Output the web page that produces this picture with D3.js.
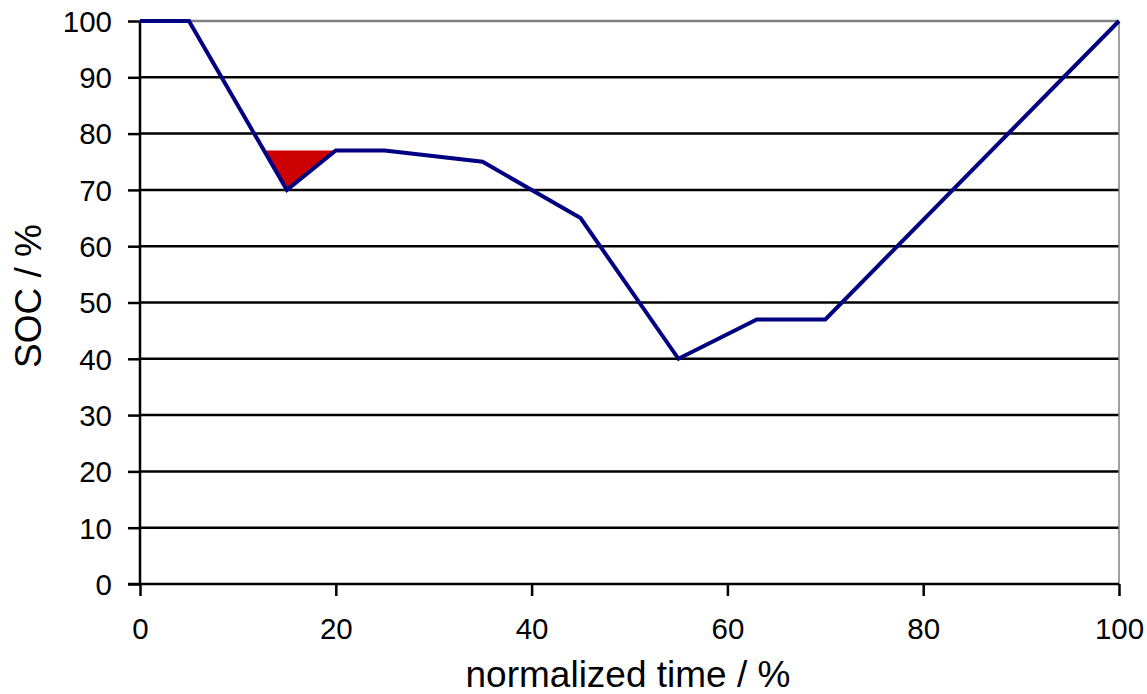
<!DOCTYPE html>
<html><head><meta charset="utf-8">
<script src="https://cdn.jsdelivr.net/npm/d3@7"></script>
<style>body{margin:0;background:#fff}svg{display:block}text{font-family:"Liberation Sans",Arial,sans-serif;fill:#000}</style>
</head><body>
<svg id="c" width="1147" height="694"></svg>
<script>
const timeVals = [0, 5, 15, 20, 25, 35, 45, 55, 63, 70, 100];
const socVals  = [100, 100, 70, 77, 77, 75, 65, 40, 47, 47, 100];
const xTicks = [0, 20, 40, 60, 80, 100];
const yTicks = [0, 10, 20, 30, 40, 50, 60, 70, 80, 90, 100];
const deficitTime = [12.667, 15, 20];
const deficitSoc  = [77, 70, 77];

const svg = d3.select("#c");
const L = 140, R = 1119, T = 21, B = 584;
const x = d3.scaleLinear().domain([0, 100]).range([L, R]);
const y = d3.scaleLinear().domain([0, 100]).range([B, T]);

// gridlines
svg.append("g").selectAll("line").data(yTicks.filter(d => d > 0 && d < 100)).join("line")
  .attr("x1", L).attr("x2", R).attr("y1", d => y(d)).attr("y2", d => y(d))
  .attr("stroke", "#000").attr("stroke-width", 2.5);
// top & right border (gray)
svg.append("line").attr("x1", L).attr("x2", R).attr("y1", y(100)).attr("y2", y(100))
  .attr("stroke", "#808080").attr("stroke-width", 2.5);
svg.append("line").attr("x1", R).attr("x2", R).attr("y1", T).attr("y2", B)
  .attr("stroke", "#808080").attr("stroke-width", 1.5);

// red deficit area
svg.append("path")
  .datum(deficitTime.map((t, i) => [t, deficitSoc[i]]))
  .attr("d", d3.line().x(d => x(d[0])).y(d => y(d[1])))
  .attr("fill", "#cc0000").attr("stroke", "none");

// axes
const yAxis = svg.append("g").attr("transform", `translate(${L},0)`)
  .call(d3.axisLeft(y).tickValues(yTicks).tickSize(12).tickPadding(16));
const xAxis = svg.append("g").attr("transform", `translate(0,${B})`)
  .call(d3.axisBottom(x).tickValues(xTicks).tickSize(12).tickPadding(22));
[yAxis, xAxis].forEach(a => {
  a.select(".domain").attr("stroke", "#000").attr("stroke-width", 2.5);
  a.selectAll(".tick line").attr("stroke", "#000").attr("stroke-width", 2.5);
  a.selectAll(".tick text").attr("font-size", 29.5).attr("font-family", "Liberation Sans, Arial, sans-serif").attr("fill", "#000");
});
yAxis.select(".domain").attr("d", `M-12,${B}H0V${T}`);
xAxis.select(".domain").attr("d", `M${L},0H${R}`);
yAxis.selectAll(".tick text").attr("dy", "0.35em");

// line
svg.append("path")
  .datum(timeVals.map((t, i) => [t, socVals[i]]))
  .attr("d", d3.line().x(d => x(d[0])).y(d => y(d[1])))
  .attr("fill", "none").attr("stroke", "#000080").attr("stroke-width", 4)
  .attr("stroke-linejoin", "miter");

// axis titles
svg.append("text").attr("x", 628).attr("y", 687).attr("text-anchor", "middle")
  .attr("font-size", 37).text("normalized time / %");
svg.append("text").attr("transform", "translate(41,296) rotate(-90)").attr("text-anchor", "middle")
  .attr("font-size", 37).text("SOC / %");
</script>
</body></html>
